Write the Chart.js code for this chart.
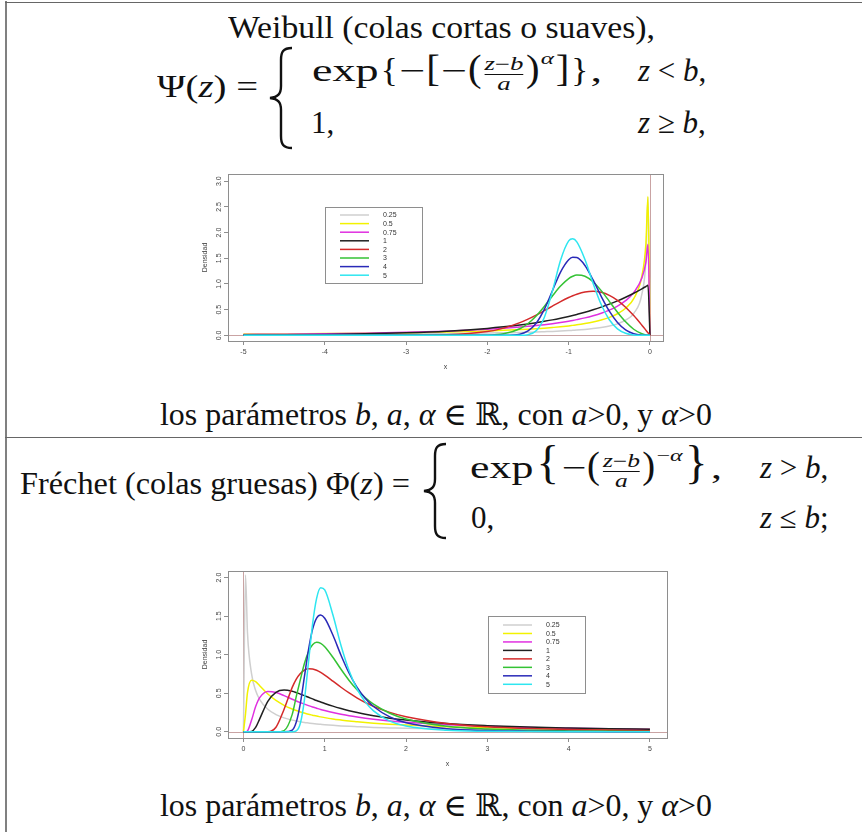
<!DOCTYPE html>
<html>
<head>
<meta charset="utf-8">
<script src="https://cdn.jsdelivr.net/npm/chart.js@4.4.1/dist/chart.umd.min.js"></script>
<style>
html, body { margin: 0; padding: 0; background: #fff; }
body { width: 862px; height: 832px; position: relative; overflow: hidden; }
.t { position: absolute; white-space: nowrap; font-family: 'Liberation Serif', 'DejaVu Serif', serif;
     font-size: 31px; line-height: 1; color: #111; transform-origin: 0 0; }
.t i { font-style: italic; }
.fr { display: inline-flex; flex-direction: column; align-items: center; font-size: 18px;
      line-height: 1.05; vertical-align: 11px; margin: 0 1px; }
.fr span + span { border-top: 1px solid #111; width: 100%; text-align: center; }
.d1, .d2, .d3 { display: inline-block; line-height: 0; transform: scaleX(0.72); margin: 0 -1px; }
.d1 { font-size: 33px; }
.d2 { font-size: 38px; }
.d3 { font-size: 46px; }
sup { font-size: 17px; line-height: 0; vertical-align: 17px; }
.ln { position: absolute; background: #666; }
.box { position: absolute; left: 190px; width: 485px; height: 212px; }
svg.br { position: absolute; overflow: visible; }
</style>
</head>
<body>

<div class="ln" style="left:5px;top:1px;width:2px;height:831px;background:#808080"></div>
<div class="ln" style="left:5px;top:2px;width:857px;height:1px;"></div>
<div class="ln" style="left:5px;top:437px;width:857px;height:1px;"></div>

<!-- fila Weibull -->
<div class="t" data-w="427" style="left:228px;top:12px">Weibull (colas cortas o suaves),</div>
<div class="t" data-w="101" style="left:157px;top:71px">Ψ(<i>z</i>) =</div>
<svg class="br" style="left:266px;top:46px" width="28" height="104">
  <path d="M26,2 C17,2 15,6 15,14 L15,40 C15,48 12,51 4,52 C12,53 15,56 15,64 L15,90 C15,98 17,102 26,102"
        fill="none" stroke="#111" stroke-width="2.4"/>
</svg>
<div class="t" data-w="290" style="left:312px;top:55px">exp<span class="d1">{</span>−<span class="d2">[</span>−<span class="d2">(</span><span class="fr"><span><i>z</i>−<i>b</i></span><span><i>a</i></span></span><span class="d2">)</span><sup><i>α</i></sup><span class="d2">]</span><span class="d1">}</span>,</div>
<div class="t" style="left:638px;top:55px"><i>z</i> &lt; <i>b</i>,</div>
<div class="t" style="left:311px;top:107px">1,</div>
<div class="t" style="left:638px;top:107px"><i>z</i> ≥ <i>b</i>,</div>
<div class="t" data-w="552" style="left:160px;top:399px">los parámetros <i>b</i>, <i>a</i>, <i>α</i> ∈ ℝ, con <i>a</i>&gt;0, y <i>α</i>&gt;0</div>

<!-- fila Fréchet -->
<div class="t" data-w="390" style="left:20px;top:468px">Fréchet (colas gruesas) Φ(<i>z</i>) =</div>
<svg class="br" style="left:420px;top:442px" width="28" height="98">
  <path d="M26,2 C17,2 15,6 15,14 L15,37 C15,45 12,48 4,49 C12,50 15,53 15,61 L15,84 C15,92 17,96 26,96"
        fill="none" stroke="#111" stroke-width="2.4"/>
</svg>
<div class="t" data-w="252" style="left:470px;top:452px">exp<span class="d3">{</span>−<span class="d2">(</span><span class="fr"><span><i>z</i>−<i>b</i></span><span><i>a</i></span></span><span class="d2">)</span><sup>−<i>α</i></sup><span class="d3">}</span>,</div>
<div class="t" style="left:760px;top:452px"><i>z</i> &gt; <i>b</i>,</div>
<div class="t" style="left:471px;top:502px">0,</div>
<div class="t" style="left:760px;top:502px"><i>z</i> ≤ <i>b</i>;</div>
<div class="t" data-w="552" style="left:160px;top:790px">los parámetros <i>b</i>, <i>a</i>, <i>α</i> ∈ ℝ, con <i>a</i>&gt;0, y <i>α</i>&gt;0</div>

<div class="box" style="top:166px"><canvas id="weibullChart"></canvas></div>
<div class="box" style="top:563px"><canvas id="frechetChart"></canvas></div>

<script>
// valores de alfa (leyenda)
const legendLabels = ['0.25', '0.5', '0.75', '1', '2', '3', '4', '5'];

// Weibull: densidades
const xWeibull = [-5, -4.5, -4, -3.5, -3, -2.5, -2, -1.8, -1.6, -1.5, -1.4, -1.3, -1.2, -1.1, -1, -0.95, -0.9, -0.8, -0.7, -0.6, -0.5, -0.4, -0.3, -0.2, -0.1, -0.05, -0.025, 0];
const weibull025 = [0.017, 0.019, 0.022, 0.025, 0.029, 0.036, 0.045, 0.051, 0.057, 0.061, 0.065, 0.071, 0.077, 0.084, 0.092, 0.097, 0.102, 0.115, 0.131, 0.152, 0.181, 0.224, 0.294, 0.428, 0.801, 1.474, 2.672, 0];
const weibull05 = [0.024, 0.028, 0.034, 0.041, 0.051, 0.065, 0.086, 0.097, 0.112, 0.120, 0.129, 0.140, 0.153, 0.167, 0.184, 0.194, 0.204, 0.229, 0.259, 0.298, 0.349, 0.420, 0.528, 0.715, 1.153, 1.788, 2.700, 0];
const weibull075 = [0.018, 0.023, 0.031, 0.042, 0.058, 0.082, 0.117, 0.137, 0.161, 0.175, 0.190, 0.208, 0.228, 0.250, 0.276, 0.290, 0.306, 0.340, 0.382, 0.431, 0.492, 0.570, 0.676, 0.832, 1.117, 1.427, 1.771, 0];
const weibull1 = [0.007, 0.011, 0.018, 0.030, 0.050, 0.082, 0.135, 0.165, 0.202, 0.223, 0.247, 0.273, 0.301, 0.333, 0.368, 0.387, 0.407, 0.449, 0.497, 0.549, 0.607, 0.670, 0.741, 0.819, 0.905, 0.951, 0.975, 0];
const weibull2 = [0, 0, 0, 0, 0.001, 0.010, 0.073, 0.141, 0.247, 0.316, 0.394, 0.480, 0.569, 0.656, 0.736, 0.771, 0.801, 0.844, 0.858, 0.837, 0.779, 0.682, 0.548, 0.384, 0.198, 0.100, 0.050, 0];
const weibull3 = [0, 0, 0, 0, 0, 0, 0.004, 0.029, 0.128, 0.231, 0.378, 0.563, 0.767, 0.959, 1.104, 1.149, 1.172, 1.151, 1.043, 0.870, 0.662, 0.450, 0.263, 0.119, 0.030, 0.008, 0.002, 0];
const weibull4 = [0, 0, 0, 0, 0, 0, 0, 0.001, 0.023, 0.086, 0.236, 0.505, 0.869, 1.232, 1.472, 1.519, 1.513, 1.360, 1.079, 0.759, 0.470, 0.250, 0.107, 0.032, 0.004, 0.001, 0, 0];
const weibull5 = [0, 0, 0, 0, 0, 0, 0, 0, 0.001, 0.013, 0.089, 0.349, 0.861, 1.463, 1.839, 1.879, 1.818, 1.476, 1.015, 0.600, 0.303, 0.127, 0.040, 0.008, 0.001, 0, 0, 0];

// Fréchet
const xFrechet = [0, 0.025, 0.05, 0.1, 0.15, 0.2, 0.3, 0.4, 0.5, 0.6, 0.65, 0.7, 0.75, 0.8, 0.85, 0.9, 0.95, 1, 1.1, 1.2, 1.3, 1.4, 1.5, 1.6, 1.8, 2, 2.5, 3, 3.5, 4, 4.5, 5];
const frechet025 = [0, 2.034, 1.276, 0.751, 0.537, 0.419, 0.292, 0.224, 0.181, 0.152, 0.141, 0.131, 0.122, 0.115, 0.108, 0.102, 0.097, 0.092, 0.084, 0.077, 0.071, 0.066, 0.061, 0.057, 0.051, 0.045, 0.036, 0.030, 0.025, 0.022, 0.019, 0.017];
const frechet05 = [0, 0.227, 0.511, 0.669, 0.651, 0.598, 0.490, 0.407, 0.344, 0.296, 0.276, 0.258, 0.243, 0.228, 0.216, 0.204, 0.194, 0.184, 0.167, 0.153, 0.140, 0.130, 0.120, 0.112, 0.098, 0.087, 0.067, 0.054, 0.045, 0.038, 0.033, 0.029];
const frechet075 = [0, 0, 0.011, 0.152, 0.327, 0.443, 0.523, 0.510, 0.469, 0.423, 0.400, 0.379, 0.359, 0.340, 0.322, 0.306, 0.290, 0.276, 0.250, 0.228, 0.208, 0.191, 0.176, 0.163, 0.141, 0.123, 0.091, 0.071, 0.057, 0.047, 0.039, 0.033];
const frechet1 = [0, 0, 0, 0.005, 0.057, 0.168, 0.396, 0.513, 0.541, 0.525, 0.508, 0.489, 0.469, 0.448, 0.427, 0.406, 0.387, 0.368, 0.333, 0.302, 0.274, 0.250, 0.228, 0.209, 0.177, 0.152, 0.107, 0.080, 0.061, 0.049, 0.040, 0.033];
const frechet2 = [0, 0, 0, 0, 0, 0, 0.001, 0.060, 0.293, 0.576, 0.683, 0.757, 0.801, 0.819, 0.816, 0.798, 0.770, 0.736, 0.658, 0.578, 0.504, 0.438, 0.380, 0.330, 0.252, 0.195, 0.109, 0.066, 0.043, 0.029, 0.021, 0.015];
const frechet3 = [0, 0, 0, 0, 0, 0, 0, 0, 0.016, 0.226, 0.459, 0.677, 0.886, 1.039, 1.128, 1.160, 1.147, 1.104, 0.967, 0.811, 0.666, 0.542, 0.441, 0.359, 0.241, 0.166, 0.072, 0.036, 0.020, 0.012, 0.007, 0.005];
const frechet4 = [0, 0, 0, 0, 0, 0, 0, 0, 0, 0.023, 0.127, 0.370, 0.715, 1.063, 1.328, 1.475, 1.514, 1.472, 1.255, 0.993, 0.759, 0.573, 0.432, 0.328, 0.193, 0.117, 0.040, 0.016, 0.008, 0.004, 0.002, 0.001];
const frechet5 = [0, 0, 0, 0, 0, 0, 0, 0, 0, 0, 0.012, 0.111, 0.415, 0.902, 1.393, 1.730, 1.868, 1.839, 1.517, 1.120, 0.791, 0.551, 0.385, 0.271, 0.139, 0.076, 0.020, 0.007, 0.003, 0.001, 0.001, 0];

// marcas de los ejes
const xTicksWeibull = [-5, -4, -3, -2, -1, 0];
const yTicksWeibull = [0, 0.5, 1, 1.5, 2, 2.5, 3];
const xTicksFrechet = [0, 1, 2, 3, 4, 5];
const yTicksFrechet = [0, 0.5, 1, 1.5, 2];

const lineColors = ['#cfcfcf', '#f2f200', '#e030e0', '#202020', '#d42a2a', '#34c234', '#2a2ab8', '#2ee6f0'];

Chart.defaults.font.family = '"Liberation Sans", Arial, sans-serif';
Chart.defaults.font.size = 7;
Chart.defaults.color = '#444';

// marco del grafico y lineas x=0, y=0
const framePlugin = {
    id: 'frame',
    beforeDatasetsDraw(chart) {
        const {ctx, chartArea: a, scales} = chart;
        const x0 = Math.round(scales.x.getPixelForValue(0)) + 0.5;
        const y0 = Math.round(scales.y.getPixelForValue(0)) + 0.5;
        ctx.save();
        ctx.strokeStyle = '#c9a3a3';
        ctx.lineWidth = 1;
        ctx.beginPath();
        ctx.moveTo(x0, a.top); ctx.lineTo(x0, a.bottom);
        ctx.moveTo(a.left, y0); ctx.lineTo(a.right, y0);
        ctx.stroke();
        ctx.restore();
    },
    afterDraw(chart) {
        const {ctx, chartArea: a} = chart;
        ctx.save();
        ctx.strokeStyle = '#8e8e8e';
        ctx.lineWidth = 1;
        ctx.strokeRect(Math.round(a.left) + 0.5, Math.round(a.top) + 0.5, Math.round(a.width), Math.round(a.height));
        ctx.restore();
    }
};

// leyenda dentro del area del grafico, como en R
const boxLegend = {
    id: 'boxLegend',
    afterDraw(chart, args, o) {
        const ctx = chart.ctx;
        ctx.save();
        ctx.fillStyle = '#fff';
        ctx.fillRect(o.left, o.top, o.width, o.height);
        ctx.strokeStyle = '#8e8e8e';
        ctx.lineWidth = 1;
        ctx.strokeRect(o.left + 0.5, o.top + 0.5, o.width, o.height);
        ctx.font = '7px "Liberation Sans", Arial, sans-serif';
        ctx.textBaseline = 'middle';
        chart.data.datasets.forEach((ds, i) => {
            const y = o.rowY + i * o.rowStep;
            ctx.strokeStyle = ds.borderColor;
            ctx.lineWidth = 1.5;
            ctx.beginPath();
            ctx.moveTo(o.lineX1, y);
            ctx.lineTo(o.lineX2, y);
            ctx.stroke();
            ctx.fillStyle = '#333';
            ctx.fillText(ds.label, o.textX, y + 0.5);
        });
        ctx.restore();
    }
};

function axis(min, max, ticks, fmt, vertical) {
    const cfg = {
        type: 'linear',
        min: min,
        max: max,
        afterBuildTicks: s => { s.ticks = ticks.map(v => ({value: v})); },
        ticks: {autoSkip: false, callback: fmt, color: '#444'},
        grid: {drawOnChartArea: false, tickLength: 4, color: '#8e8e8e'},
        border: {display: false},
        title: {display: true, color: '#444', font: {size: 7}}
    };
    if (vertical) {
        cfg.afterFit = s => { s.width = 38; };
        cfg.ticks.minRotation = 90;
        cfg.ticks.maxRotation = 90;
        cfg.ticks.crossAlign = 'center';
        cfg.ticks.padding = 0;
        cfg.title.text = 'Densidad';
        cfg.title.padding = {top: 11, bottom: 0};
    } else {
        cfg.afterFit = s => { s.height = 37; };
        cfg.ticks.maxRotation = 0;
        cfg.ticks.padding = 3;
        cfg.title.text = 'x';
        cfg.title.padding = {top: 0, bottom: 7};
    }
    return cfg;
}

function createChart(id, xs, series, xr, yr, xTicks, yTicks, pad, legendBox) {
    const datasets = series.map((ys, i) => ({
        label: legendLabels[i],
        data: xs.map((x, k) => ({x: x, y: ys[k]})),
        borderColor: lineColors[i],
        borderWidth: 1.5,
        pointRadius: 0,
        fill: false,
        cubicInterpolationMode: 'monotone',
        order: series.length - i
    }));
    return new Chart(document.getElementById(id), {
        type: 'line',
        data: {datasets: datasets},
        options: {
            responsive: true,
            maintainAspectRatio: false,
            animation: false,
            parsing: false,
            layout: {padding: pad},
            scales: {
                x: axis(xr[0], xr[1], xTicks, v => String(v), false),
                y: axis(yr[0], yr[1], yTicks, v => v.toFixed(1), true)
            },
            plugins: {
                legend: {display: false},
                tooltip: {enabled: false},
                boxLegend: legendBox
            }
        },
        plugins: [framePlugin, boxLegend]
    });
}

createChart('weibullChart', xWeibull,
    [weibull025, weibull05, weibull075, weibull1, weibull2, weibull3, weibull4, weibull5],
    [-5.19, 0.16], [-0.11, 3.14], xTicksWeibull, yTicksWeibull,
    {top: 8, right: 12, left: 0, bottom: 0},
    {left: 135, top: 41, width: 97, height: 76, lineX1: 150, lineX2: 179, textX: 193, rowY: 49, rowStep: 8.6});

createChart('frechetChart', xFrechet,
    [frechet025, frechet05, frechet075, frechet1, frechet2, frechet3, frechet4, frechet5],
    [-0.19, 5.21], [-0.08, 2.085], xTicksFrechet, yTicksFrechet,
    {top: 8, right: 8, left: 0, bottom: 0},
    {left: 298, top: 53, width: 97, height: 77, lineX1: 313, lineX2: 342, textX: 356, rowY: 62, rowStep: 8.47});

// ajustar el ancho de los textos al de la imagen
function fitTexts() {
    document.querySelectorAll('[data-w]').forEach(el => {
        el.style.transform = 'none';
        const w = el.getBoundingClientRect().width;
        el.style.transform = 'scaleX(' + (el.dataset.w / w) + ')';
    });
}
fitTexts();
if (document.fonts) document.fonts.ready.then(fitTexts);
</script>
</body>
</html>
